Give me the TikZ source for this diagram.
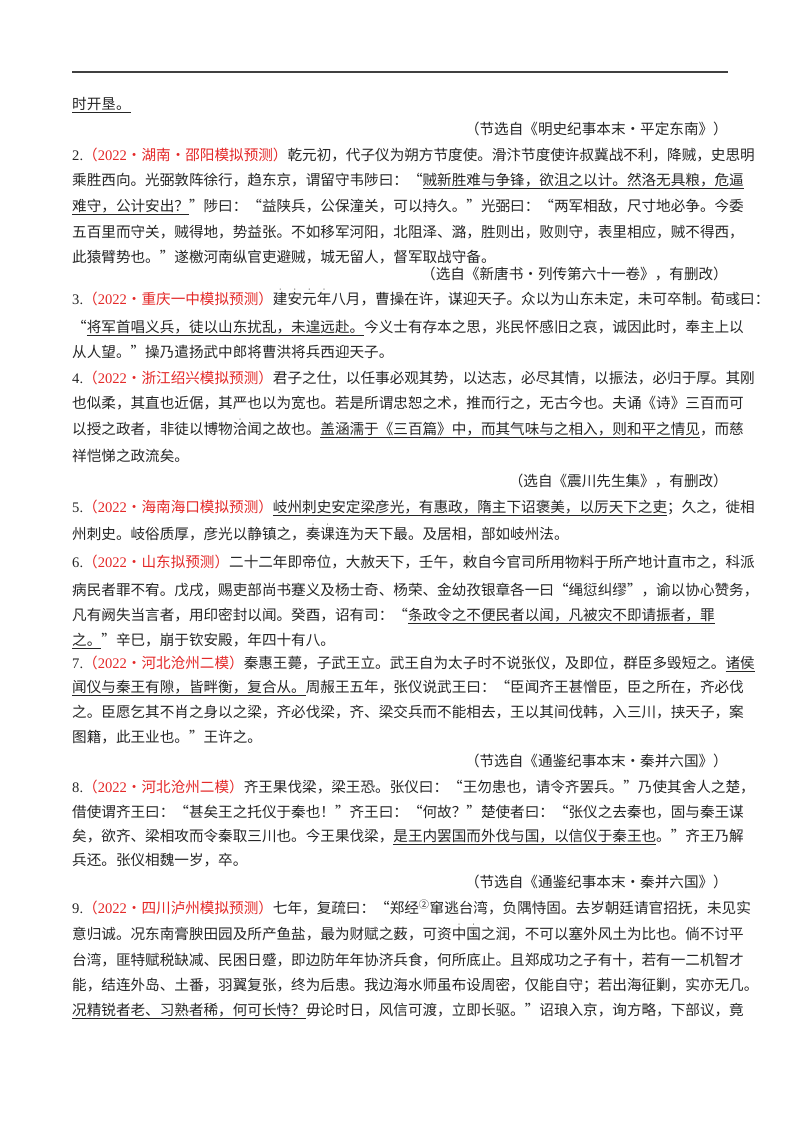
\documentclass[tikz,border=0pt]{standalone}
\usepackage{fontspec}
\setmainfont{Liberation Serif}
\newfontfamily\cjk{Noto Sans CJK SC}
\definecolor{lab}{RGB}{228,40,40}
\newcommand\ul[1]{\underline{#1}}
\newcommand\dd[1]{\leavevmode\rlap{\hbox to 1em{\hss\raisebox{0.92em}{\fontsize{5}{5}\selectfont\textbullet}\hss}}#1}
\newcommand\lab[2]{{\rmfamily #1.}{\color{lab}（{\rmfamily 2022}·#2）}}
\newcommand\fl[3]{\node[txt] (#1) at (72,-#2-5.5) {\hbox to 656pt{#3}};}
\newcommand\pl[3]{\node[txt] (#1) at (72,-#2-5.5) {#3};}
\newcommand\src[3]{\node[txt,anchor=base east] (#1) at (728,-#2-5.5) {#3};}
\begin{document}
\XeTeXinterchartokenstate=1
\XeTeXinterchartoks 1 1 = {\hskip 0pt plus 3pt\relax}
\XeTeXinterchartoks 1 2 = {\hskip 0pt plus 3pt\relax}
\XeTeXinterchartoks 1 3 = {\hskip 0pt plus 3pt\relax}
\XeTeXinterchartoks 2 1 = {\hskip 0pt plus 3pt\relax}
\XeTeXinterchartoks 3 1 = {\hskip 0pt plus 3pt\relax}
\XeTeXinterchartoks 3 2 = {\hskip 0pt plus 3pt\relax}
\XeTeXinterchartoks 3 3 = {\hskip 0pt plus 3pt\relax}
\XeTeXinterchartoks 0 1 = {\hskip 0pt plus 3pt\relax}
\XeTeXinterchartoks 1 0 = {\hskip 0pt plus 3pt\relax}
\XeTeXinterchartoks 3 0 = {\hskip 0pt plus 3pt\relax}
\XeTeXinterchartoks 0 2 = {\hskip 0pt plus 3pt\relax}
\begin{tikzpicture}[x=1pt,y=1pt,
  txt/.style={anchor=base west,inner sep=0pt,font=\cjk\fontsize{14.6}{16}\selectfont,text=black!85}]
\useasboundingbox (0,0) rectangle (800,-1132);
\fill[white] (0,0) rectangle (800,-1132);
\coordinate (r1) at (72,-72);
\coordinate (r2) at (728,-72);
\draw[line width=1.3pt,black!75] (r1) -- (r2);
\pl{a1}{104}{\ul{时开垦。}}
\src{s1}{129}{（节选自《明史纪事本末·平定东南》）}
\fl{a2}{155}{\lab{2}{湖南·邵阳模拟预测}乾元初，代子仪为朔方节度使。滑汴节度使许叔冀战不利，降贼，史思明}
\fl{a3}{180}{乘胜西向。光弼敦阵徐行，趋东京，谓留守韦陟曰：“\ul{贼新胜难与争锋，欲沮之以计。然洛无具粮，危逼}}
\fl{a4}{206}{\ul{难守，公计安出？}”陟曰：“益陕兵，公保潼关，可以持久。”光弼曰：“两军相敌，尺寸地必争。今委}
\fl{a5}{232}{五百里而守关，贼得地，势益张。不如移军河阳，北阻泽、潞，胜则出，败则守，表里相应，贼不得西，}
\pl{a6}{257}{此猿臂势也。”遂檄河南纵官吏避贼，城无留人，督军取战守备。}
\src{s2}{274}{（选自《新唐书·列传第六十一卷》，有删改）}
\fl{a7}{299}{\lab{3}{重庆一中模拟预测}\dd{建}\dd{安}\dd{元}\dd{年}八月，曹操在许，谋迎天子。众以为山东未定，未可卒制。荀彧曰：}
\fl{a8}{327}{“\ul{将军首唱义兵，徒以山东扰乱，未遑远赴。}今义士有存本之思，兆民怀感旧之哀，诚因此时，奉主上以}
\pl{a9}{352}{从人望。”操乃遣扬武中郎将曹洪将兵西迎天子。}
\fl{a10}{378}{\lab{4}{浙江绍兴模拟预测}君子之仕，以任事必观其势，以达志，必尽其情，以振法，必归于厚。其刚}
\fl{a11}{403}{也似柔，其直也近倨，其严也以为宽也。若是所谓忠恕之术，推而行之，无古今也。夫诵《诗》三百而可}
\fl{a12}{429}{以授之政者，非徒以博物\dd{洽}闻之故也。\ul{盖涵濡于《三百篇》中，而其气味与之相入，则和平之情见}，而慈}
\pl{a13}{456}{祥恺悌之政流矣。}
\src{s3}{481}{（选自《震川先生集》，有删改）}
\fl{a14}{507}{\lab{5}{海南海口模拟预测}\ul{岐州刺史安定梁彦光，有惠政，隋主下诏褒美，以厉天下之吏}；久之，徙相}
\pl{a15}{534}{州刺史。岐俗质厚，彦光以静镇之，\dd{奏}\dd{课}连为天下最。及居相，部如岐州法。}
\fl{a16}{562}{\lab{6}{山东拟预测}二十二年即帝位，大赦天下，壬午，\dd{敕}自今官司所用物料于所产地计直市之，科派}
\fl{a17}{590}{病民者罪不宥。戊戌，赐吏部尚书蹇义及杨士奇、杨荣、金幼孜银章各一曰“绳愆纠缪”，谕以协心赞务，}
\pl{a18}{615}{凡有阙失当言者，用印密封以闻。癸酉，诏有司：“\ul{条政令之不便民者以闻，凡被灾不即请振者，罪}}
\pl{a19}{640}{\ul{之。}”辛巳，崩于钦安殿，年四十有八。}
\fl{a20}{663}{\lab{7}{河北沧州二模}秦惠王薨，子武王立。武王自为太子时不说张仪，及即位，群臣多毁短之。\ul{诸侯}}
\fl{a21}{687}{\ul{闻仪与秦王有隙，皆畔衡，复合从。}周赧王五年，张仪说武王曰：“臣闻齐王甚憎臣，臣之所在，齐必伐}
\fl{a22}{712}{之。臣愿乞其不肖之身以之梁，齐必伐梁，齐、梁交兵而不能相去，王以其间伐韩，入三川，挟天子，案}
\pl{a23}{737}{图籍，此王业也。”王许之。}
\src{s4}{761}{（节选自《通鉴纪事本末·秦并六国》）}
\fl{a24}{787}{\lab{8}{河北沧州二模}齐王果伐梁，梁王恐。张仪曰：“王勿患也，请令齐罢兵。”乃使其舍人之楚，}
\fl{a25}{812}{借使谓齐王曰：“甚矣王之托仪于秦也！”齐王曰：“何故？”楚使者曰：“张仪之去秦也，固与秦王谋}
\fl{a26}{836}{矣，欲齐、梁相攻而令秦取三川也。今王果伐梁，\ul{是王内罢国而外伐与国，以信仪于秦王也}。”齐王乃解}
\pl{a27}{860}{兵还。张仪相魏一岁，卒。}
\src{s5}{882}{（节选自《通鉴纪事本末·秦并六国》）}
\fl{a28}{908}{\lab{9}{四川泸州模拟预测}七年，复疏曰：“郑经\textsuperscript{②}窜逃台湾，负隅恃固。去岁朝廷请官招抚，未见实}
\fl{a29}{934}{意归诚。况东南膏腴田园及所产鱼盐，最为财赋之薮，可资\dd{中}\dd{国}之润，不可以塞外风土为比也。倘不讨平}
\fl{a30}{960}{台湾，匪特赋税缺减、民困日蹙，即边防年年协济兵食，何所底止。且郑成功之子有十，若有一二机智才}
\fl{a31}{985}{能，结连外岛、土番，羽翼复张，终为后患。我边海水师虽布设周密，仅能自守；若出海征剿，实亦无几。}
\fl{a32}{1010}{\ul{况精锐者老、习熟者稀，何可长恃？}毋论时日，风信可渡，立即长驱。”诏琅入京，询方略，下部议，竟}
\end{tikzpicture}
\end{document}
